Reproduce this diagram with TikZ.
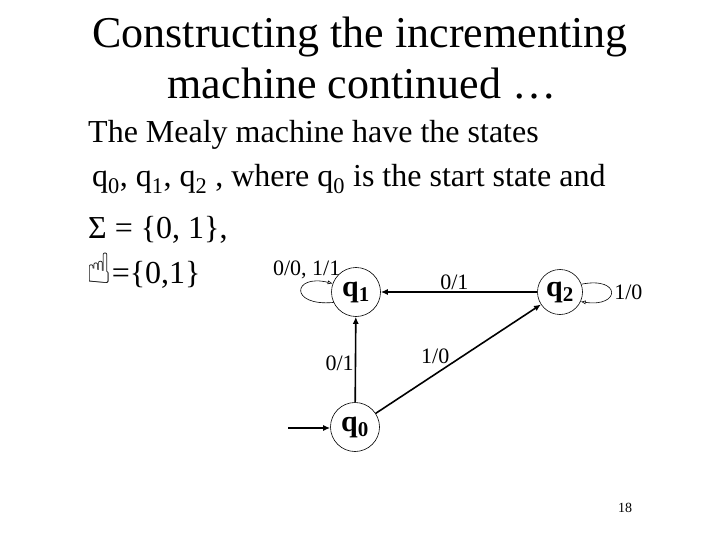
\documentclass[tikz,border=0pt]{standalone}
\usepackage{fontspec}
\setmainfont{Liberation Serif}
\newfontfamily\handfont{DejaVu Sans}
\usetikzlibrary{positioning,arrows.meta}

\begin{document}
\begin{tikzpicture}[x=1pt, y=-1pt,
  state/.style={draw, circle, minimum size=49pt, inner sep=0pt, line width=0.6pt,
    font=\fontsize{30}{30}\selectfont\bfseries},
  trans/.style={-{Latex[length=7pt,width=6pt]}, line width=1.6pt},
  selfloop/.style={-{Latex[length=5pt,width=4pt,open]}, line width=0.6pt},
  lbl/.style={font=\fontsize{22}{22}\selectfont, inner sep=1pt},
  title/.style={anchor=base, inner sep=0pt, font=\fontsize{44}{44}\selectfont},
  body/.style={anchor=base west, inner sep=0pt, font=\fontsize{32}{32}\selectfont}
]
\useasboundingbox (0,0) rectangle (720,540);

% Title
\node[title] (head1) at (360,48) {Constructing the incrementing};
\node[title] (head2) at (362,99) {machine continued \dots};

% Text lines
\node[body] (line1) at (88,143) {The Mealy machine have the states};
\node[body] (line2) at (92,187) {q\textsubscript{0}, q\textsubscript{1}, q\textsubscript{2} , where q\textsubscript{0} is the start state and};
\node[body] (line3) at (88,238) {Σ = \{0, 1\},};
\node[body] (line4) at (86,283) {{\handfont\fontsize{42}{42}\selectfont ☝}=\{0,1\}};

% States
\node[state] (q1) at (356,292) {q\textsubscript{1}};
\node[state, minimum size=45pt] (q2) at (560,292) {q\textsubscript{2}};
\node[state] (q0) at (355,427) {q\textsubscript{0}};
\coordinate (start) at (288,428);

% Transitions
\draw[trans] (start) -- (q0.west |- start);
\draw[trans] (q0) -- node[lbl, left, pos=0.45] {0/1} (q1);
\draw[trans] (q2) -- node[lbl, above, pos=0.53] {0/1} (q1);
\draw[trans] (q0) -- node[lbl, above left, pos=0.45, inner sep=0pt] {1/0} (q2);

% Self loops
\draw[selfloop] (q1.205) .. controls +(-45,4) and +(-40,-10) .. (q1.160)
  node[lbl, pos=0.7, above=4pt] {0/0, 1/1};
\draw[selfloop] (q2.20) .. controls +(40,-8) and +(40,6) .. (q2.-25)
  node[lbl, pos=0.5, right=2pt] {1/0};

% Page number
\node[font=\fontsize{14}{14}\selectfont] (page) at (625,508) {18};
\end{tikzpicture}
\end{document}
